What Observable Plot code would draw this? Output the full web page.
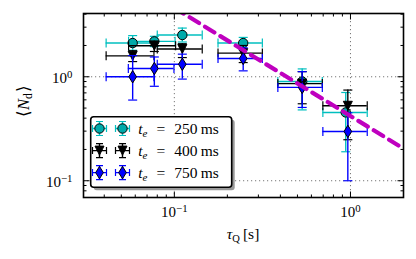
<!DOCTYPE html>
<html><head><meta charset="utf-8">
<script src="https://cdn.jsdelivr.net/npm/d3@7"></script>
<script src="https://cdn.jsdelivr.net/npm/@observablehq/plot@0.6"></script>
<style>body{margin:0;background:#fff;} svg{display:block;}</style>
</head><body><div id="chart"></div>
<script>
// ---- data ----
const seriesLabels = ["250", "400", "750"];
const seriesColors = ["#00bfbf", "#000000", "#0000ff"];

const tau250   = [0.058, 0.077, 0.111, 0.246, 0.532, 0.94];
const tauLo250 = [0.041, 0.055, 0.080, 0.177, 0.387, 0.697];
const tauHi250 = [0.076, 0.101, 0.144, 0.316, 0.692, 1.245];
const N250     = [2.11, 2.19, 2.52, 2.11, 0.90, 0.454];
const NLo250   = [1.80, 1.95, 2.16, 1.80, 0.48, 0.19];
const NHi250   = [2.49, 2.45, 2.94, 2.39, 1.19, 0.706];

const tau400   = [0.058, 0.077, 0.111, 0.246, 0.532, 0.966];
const tauLo400 = [0.041, 0.055, 0.080, 0.177, 0.387, 0.697];
const tauHi400 = [0.0766, 0.1017, 0.144, 0.316, 0.692, 1.245];
const N400     = [1.59, 1.99, 1.85, 1.69, 0.86, 0.526];
const NLo400   = [1.40, 1.75, 1.53, 1.37, 0.55, 0.248];
const NHi400   = [1.78, 2.20, 2.08, 2.00, 1.12, 0.745];

const tau750   = [0.058, 0.077, 0.111, 0.246, 0.532, 0.966];
const tauLo750 = [0.041, 0.0548, 0.080, 0.177, 0.387, 0.697];
const tauHi750 = [0.0766, 0.0995, 0.144, 0.316, 0.692, 1.245];
const N750     = [1.00, 1.20, 1.32, 1.50, 0.79, 0.298];
const NLo750   = [0.597, 0.81, 0.95, 1.14, 0.507, 0.10];
const NHi750   = [1.60, 1.55, 1.65, 1.90, 1.12, 0.45];

const fitTau = [0.1, 2.0];
const fitN   = [4.6, 0.204];

const xMajor = [0.1, 1];
const xMinor = [0.04, 0.05, 0.06, 0.07, 0.08, 0.09, 0.2, 0.3, 0.4, 0.5, 0.6, 0.7, 0.8, 0.9];
const yMajor = [0.1, 1];
const yMinor = [0.08, 0.09, 0.2, 0.3, 0.4, 0.5, 0.6, 0.7, 0.8, 0.9, 2, 3, 4];
const xTickLabels = ["10^-1", "10^0"];
const yTickLabels = ["10^-1", "10^0"];

// ---- build tables ----
const mk = (tau, lo, hi, n, nlo, nhi) => tau.map((t, i) => ({tau: t, lo: lo[i], hi: hi[i], n: n[i], nlo: nlo[i], nhi: nhi[i]}));
const data = [
  mk(tau250, tauLo250, tauHi250, N250, NLo250, NHi250),
  mk(tau400, tauLo400, tauHi400, N400, NLo400, NHi400),
  mk(tau750, tauLo750, tauHi750, N750, NLo750, NHi750)
];
const fit = fitTau.map((t, i) => ({tau: t, n: fitN[i]}));

// ---- symbols ----
const vcap = {draw(c){ c.moveTo(0,-4.5); c.lineTo(0,4.5); }};
const hcap = {draw(c){ c.moveTo(-4.5,0); c.lineTo(4.5,0); }};
const triDown = {draw(c){ const s=4.5; c.moveTo(-s,-s); c.lineTo(s,-s); c.lineTo(0,s); c.closePath(); }};
const thinDiamond = {draw(c){ const s=6.2; c.moveTo(0,-s); c.lineTo(0.62*s,0); c.lineTo(0,s); c.lineTo(-0.62*s,0); c.closePath(); }};
const circ = {draw(c){ c.moveTo(4.7,0); c.arc(0,0,4.7,0,2*Math.PI); }};
const markerSyms = [circ, triDown, thinDiamond];
const markerFills = ["#00aaaa", "#000000", "#0000ff"];
const tick = (dx, dy) => ({draw(c){ c.moveTo(0,0); c.lineTo(dx,dy); }});

const seriesMarks = data.flatMap((rows, k) => {
  const c = seriesColors[k];
  return [
    Plot.ruleY(rows, {y: "n", x1: "lo", x2: "hi", stroke: c, strokeWidth: 1.4}),
    Plot.ruleX(rows, {x: "tau", y1: "nlo", y2: "nhi", stroke: c, strokeWidth: 1.4}),
    Plot.dot(rows, {x: "lo", y: "n", symbol: vcap, fill: "none", stroke: c, strokeWidth: 1.2}),
    Plot.dot(rows, {x: "hi", y: "n", symbol: vcap, fill: "none", stroke: c, strokeWidth: 1.2}),
    Plot.dot(rows, {x: "tau", y: "nlo", symbol: hcap, fill: "none", stroke: c, strokeWidth: 1.2}),
    Plot.dot(rows, {x: "tau", y: "nhi", symbol: hcap, fill: "none", stroke: c, strokeWidth: 1.2}),
    Plot.dot(rows, {x: "tau", y: "n", symbol: markerSyms[k], fill: markerFills[k], stroke: "black", strokeWidth: 1})
  ];
});

const tickMarks = (vals, len) => [
  Plot.dot(vals, {x: d => d, frameAnchor: "bottom", symbol: tick(0, -len), fill: "none", stroke: "black", strokeWidth: 1}),
  Plot.dot(vals, {x: d => d, frameAnchor: "top", symbol: tick(0, len), fill: "none", stroke: "black", strokeWidth: 1})
];
const tickMarksY = (vals, len) => [
  Plot.dot(vals, {y: d => d, frameAnchor: "left", symbol: tick(len, 0), fill: "none", stroke: "black", strokeWidth: 1}),
  Plot.dot(vals, {y: d => d, frameAnchor: "right", symbol: tick(-len, 0), fill: "none", stroke: "black", strokeWidth: 1})
];

const FONT = "Liberation Serif";

const plot = Plot.plot({
  width: 416, height: 259,
  marginLeft: 83, marginRight: 13, marginTop: 13, marginBottom: 62,
  style: {fontFamily: FONT, background: "white", color: "black"},
  x: {type: "log", domain: [0.0305, 2]},
  y: {type: "log", domain: [0.069, 4.06]},
  marks: [
    Plot.ruleX(xMajor, {x: d => d, stroke: "#777", strokeWidth: 1, strokeDasharray: "1.2,2.8"}),
    Plot.ruleY(yMajor, {y: d => d, stroke: "#777", strokeWidth: 1, strokeDasharray: "1.2,2.8"}),
    ...seriesMarks,
    Plot.line(fit, {x: "tau", y: "n", stroke: "#bf00bf", strokeWidth: 4.2, strokeDasharray: "11,7", clip: true}),
    ...tickMarks(xMajor, 6), ...tickMarks(xMinor, 3),
    ...tickMarksY(yMajor, 6), ...tickMarksY(yMinor, 3),
    Plot.frame({stroke: "black", strokeWidth: 1.6}),
    Plot.axisX(xMajor, {tickSize: 0, tickPadding: 9, fontSize: 15, label: null,
      tickFormat: (d) => xTickLabels[xMajor.indexOf(d)]}),
    Plot.axisY(yMajor, {tickSize: 0, tickPadding: 11, fontSize: 15, label: null, dy: 1.5,
      tickFormat: (d) => yTickLabels[yMajor.indexOf(d)]})
  ]
});
document.getElementById("chart").appendChild(plot);

const svg = d3.select(plot);
// superscripts in tick labels
svg.selectAll('g[aria-label="x-axis tick label"] text, g[aria-label="y-axis tick label"] text').each(function(){
  const t = this.textContent;
  if (!t.includes("^")) return;
  const [b, e] = t.split("^");
  this.textContent = b;
  d3.select(this).append("tspan").attr("dy", "-0.45em").attr("font-size", "0.72em").text(e.replace("-", "\u2212"));
});

// axis titles
const xt = svg.append("text").attr("x", 243).attr("y", 239).attr("text-anchor", "middle")
  .attr("font-family", FONT).attr("font-size", 15.5).attr("fill", "black");
xt.append("tspan").attr("font-style", "italic").text("τ");
xt.append("tspan").attr("font-size", 10.5).attr("dy", 3).text("Q");
xt.append("tspan").attr("dy", -3).text("\u2009[s]");

const yt = svg.append("text").attr("transform", "translate(29,101) rotate(-90)").attr("text-anchor", "middle")
  .attr("font-family", FONT).attr("font-size", 16.5).attr("fill", "black");
yt.append("tspan").text("⟨");
yt.append("tspan").attr("font-style", "italic").text("N");
yt.append("tspan").attr("font-size", 11.5).attr("dy", 3).text("d");
yt.append("tspan").attr("dy", -3).text("\u200a⟩");

// legend
const L = svg.append("g");
L.append("rect").attr("x", 93.7).attr("y", 119.7).attr("width", 141).attr("height", 70.6).attr("rx", 3).attr("fill", "#999");
L.append("rect").attr("x", 90.7).attr("y", 116.7).attr("width", 141).attr("height", 70.6).attr("rx", 3)
  .attr("fill", "white").attr("stroke", "black").attr("stroke-width", 1.6);
const rowY = [128.5, 150.6, 172.6];
seriesLabels.forEach((lab, k) => {
  const y = rowY[k], c = seriesColors[k];
  [99.5, 122.5].forEach(x => {
    const g = L.append("g").attr("transform", `translate(${x},${y})`);
    g.append("path").attr("d", "M-7,0H7M0,-7V7").attr("stroke", c).attr("stroke-width", 1.4).attr("fill", "none");
    g.append("path").attr("d", "M-7,-3.5V3.5M7,-3.5V3.5M-3.5,-7H3.5M-3.5,7H3.5").attr("stroke", c).attr("stroke-width", 1.2).attr("fill", "none");
    g.append("path").attr("d", d3.symbol(markerSyms[k])()).attr("fill", markerFills[k]).attr("stroke", "black").attr("stroke-width", 1);
  });
  const t = L.append("text").attr("x", 138.3).attr("y", y + 5).attr("text-anchor", "start")
    .attr("font-family", FONT).attr("font-size", 15.5).attr("fill", "black");
  t.append("tspan").attr("font-style", "italic").text("t");
  t.append("tspan").attr("font-style", "italic").attr("font-size", 11).attr("dy", 3).text("e");
  t.append("tspan").attr("dy", -3).text("\u2002\u200a=\u2002\u200a" + lab + "\u2009ms");
});
</script></body></html>
